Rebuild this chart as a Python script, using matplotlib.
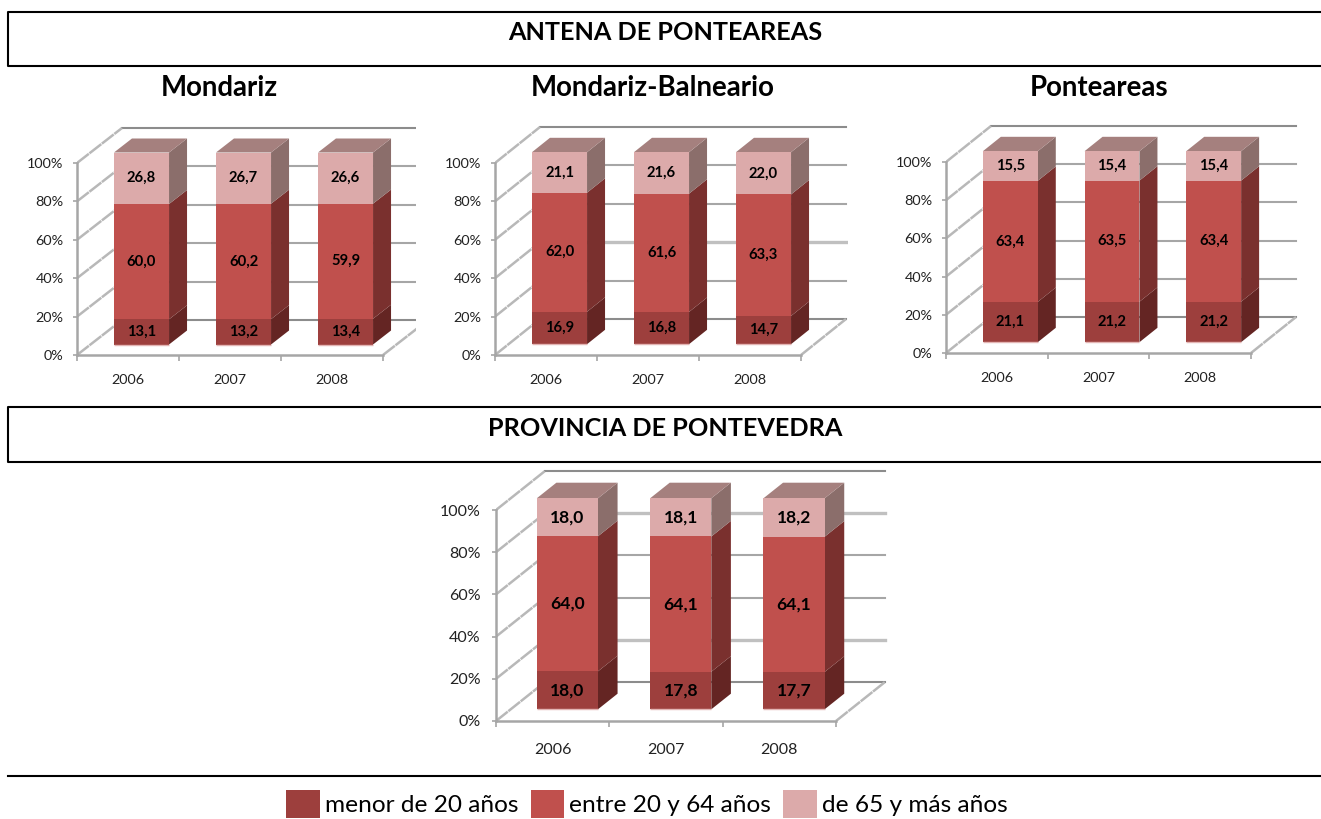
import matplotlib
matplotlib.use('Agg')
import numpy as np
import matplotlib.pyplot as plt
from matplotlib.patches import Patch, Polygon

plt.rcParams['font.family'] = ['Lato', 'DejaVu Sans']

W, H = 1321, 819

years = ['2006', '2007', '2008']
pct_ticks = [0, 20, 40, 60, 80, 100]
series_names = ['menor de 20 años', 'entre 20 y 64 años', 'de 65 y más años']

mondariz_young = [13.1, 13.2, 13.4]
mondariz_adult = [60.0, 60.2, 59.9]
mondariz_old = [26.8, 26.7, 26.6]

balneario_young = [16.9, 16.8, 14.7]
balneario_adult = [62.0, 61.6, 63.3]
balneario_old = [21.1, 21.6, 22.0]

ponteareas_young = [21.1, 21.2, 21.2]
ponteareas_adult = [63.4, 63.5, 63.4]
ponteareas_old = [15.5, 15.4, 15.4]

provincia_young = [18.0, 17.8, 17.7]
provincia_adult = [64.0, 64.1, 64.1]
provincia_old = [18.0, 18.1, 18.2]

# front, side, top colour of each stacked segment
front_cols = ['#9d3f3d', '#c0504d', '#dcaaaa']
side_cols = ['#642523', '#7a302e', '#8b6e6b']
top_col = '#a5807e'
grid_col = '#a6a6a6'


def draw_chart(left, right, clip, y0, y100, dx, dy, series, fs=10.4, label_fs=10.6,
               pad_y=6.6, pad_x=13.5, soft=()):
    # all geometry in reference pixels, turned into data units below
    cat_w = (right - left) / 3.0
    ppu = (y0 - y100) / 100.0
    ax = fig.add_axes([left / W, 1 - y0 / H, (clip - left) / W, (y0 - y100 + dy + 3) / H])
    ax.set_xlim(0, (clip - left) / cat_w)
    ax.set_ylim(0, (y0 - y100 + dy + 3) / ppu)
    ddx, ddy = dx / cat_w, dy / ppu

    for s in ['top', 'right']:
        ax.spines[s].set_visible(False)
    for s in ['left', 'bottom']:
        ax.spines[s].set_color(grid_col)
        ax.spines[s].set_linewidth(1.8)
    ax.spines['left'].set_bounds(0, 100)
    ax.spines['bottom'].set_bounds(0, 3)

    ax.set_yticks(pct_ticks)
    ax.set_yticklabels([f'{t}%' for t in pct_ticks], fontsize=fs, color='#222222')
    ax.set_xticks([0, 1, 2, 3])
    ax.set_xticklabels([])
    ax.set_xticks([0.5, 1.5, 2.5], minor=True)
    ax.set_xticklabels(years, minor=True, fontsize=fs, color='#222222')
    ax.tick_params(axis='y', length=3, width=1.2, color=grid_col, pad=pad_y)
    ax.tick_params(axis='x', which='major', length=4, width=1.2, color=grid_col)
    ax.tick_params(axis='x', which='minor', length=0, pad=pad_x)

    # back wall and side wall
    for t in pct_ticks:
        c = '#8c8c8c' if t in (0, 100) else grid_col
        lw = 1.5
        if t in soft:
            c, lw = '#c0c0c0', 2.4
        ax.plot([ddx, 3 + ddx], [t + ddy, t + ddy], color=c, lw=lw, zorder=1)
        ax.plot([0, ddx], [t, t + ddy], color='#b8b8b8', lw=1.8, ls=(0, (6, 0.3)), zorder=1)
    ax.plot([3, 3 + ddx], [0, ddy], color='#b8b8b8', lw=1.8, ls=(0, (6, 0.3)), zorder=1)

    bar_w = 0.54
    for i in range(3):
        vals = np.array([s[i] for s in series], dtype=float)
        vals = vals / vals.sum() * 100
        xl = i + 0.5 + 0.3 * ddx - bar_w / 2
        xr = xl + bar_w
        base = 0.3 * ddy
        sx, sy = 0.4 * ddx, 0.4 * ddy
        bottom = base
        for j, v in enumerate(vals):
            ax.add_patch(Polygon([(xr, bottom), (xr + sx, bottom + sy),
                                  (xr + sx, bottom + v + sy), (xr, bottom + v)],
                                 closed=True, fc=side_cols[j], ec='none', zorder=3))
            ax.bar(xl, v, bar_w, bottom=bottom, align='edge', color=front_cols[j], zorder=4)
            ax.text(xl + bar_w / 2, bottom + v / 2, f'{series[j][i]:.1f}'.replace('.', ','),
                    ha='center', va='center', fontsize=label_fs, fontweight='bold',
                    color='black', zorder=5)
            bottom += v
        ax.add_patch(Polygon([(xl, bottom), (xr, bottom), (xr + sx, bottom + sy), (xl + sx, bottom + sy)],
                             closed=True, fc=top_col, ec='none', zorder=3))
        ax.plot([xl, xr], [base, base], color='#e3b5b4', lw=1.0, zorder=5, solid_capstyle='butt')
    return ax


fig = plt.figure(figsize=(W / 100, H / 100), dpi=100, facecolor='white')

# overlay in pixel coordinates for the frames and headings
bg = fig.add_axes([0, 0, 1, 1])
bg.set_xlim(0, W)
bg.set_ylim(H, 0)
bg.axis('off')
for top, bot in [(12, 66), (407, 462)]:
    bg.plot([W + 2, 8, 8, W + 2], [top, top, bot, bot], color='black', lw=1.5)
bg.plot([8, W + 2], [776, 776], color='black', lw=1.5)
bg.text(665, 33, 'ANTENA DE PONTEAREAS', ha='center', va='center', fontsize=18.2, fontweight='bold')
bg.text(665, 429, 'PROVINCIA DE PONTEVEDRA', ha='center', va='center', fontsize=18.2, fontweight='bold')
bg.text(219, 88, 'Mondariz', ha='center', va='center', fontsize=19.9, fontweight='bold')
bg.text(653, 88, 'Mondariz-Balneario', ha='center', va='center', fontsize=19.9, fontweight='bold')
bg.text(1099, 88, 'Ponteareas', ha='center', va='center', fontsize=19.9, fontweight='bold')

draw_chart(77, 383, 416, 355, 163, 45, 35, [mondariz_young, mondariz_adult, mondariz_old])
draw_chart(495, 801, 848, 355, 163, 45, 36, [balneario_young, balneario_adult, balneario_old], soft=(40,))
draw_chart(946, 1251, 1298, 353, 162, 45, 36, [ponteareas_young, ponteareas_adult, ponteareas_old])
draw_chart(496, 836, 888, 721, 510, 49, 39, [provincia_young, provincia_adult, provincia_old],
           fs=11.5, label_fs=12.6, pad_y=8, pad_x=15.5, soft=(80, 20))

handles = [Patch(fc=c, ec='none') for c in front_cols]
fig.legend(handles, series_names, loc='center', bbox_to_anchor=(647 / W, 1 - 804 / H), ncol=3,
           frameon=False, fontsize=17.6, handlelength=1.39, handleheight=1.35,
           handletextpad=0.2, columnspacing=0.5, borderpad=0, labelspacing=0)

fig.savefig('out.png', dpi=100)
